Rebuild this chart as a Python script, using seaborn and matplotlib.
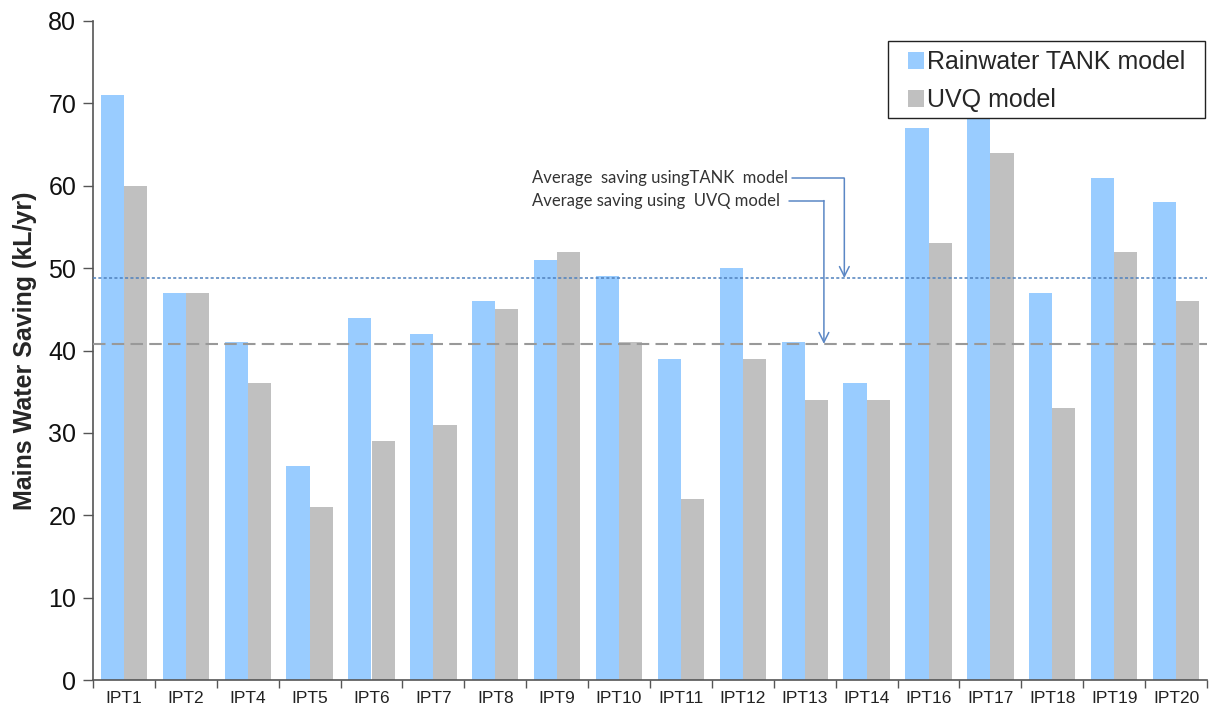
import matplotlib
matplotlib.use("Agg")
import matplotlib.pyplot as plt
import matplotlib.patches as mpatches
import seaborn as sns
import pandas as pd
from matplotlib.ticker import FixedLocator, MultipleLocator

# ---- data ----
categories = ["IPT1", "IPT2", "IPT4", "IPT5", "IPT6", "IPT7", "IPT8", "IPT9", "IPT10",
              "IPT11", "IPT12", "IPT13", "IPT14", "IPT16", "IPT17", "IPT18", "IPT19", "IPT20"]
tank_values = [71, 47, 41, 26, 44, 42, 46, 51, 49, 39, 50, 41, 36, 67, 69, 47, 61, 58]
uvq_values = [60, 47, 36, 21, 29, 31, 45, 52, 41, 22, 39, 34, 34, 53, 64, 33, 52, 46]
series_names = ["Rainwater TANK model", "UVQ model"]
avg_tank = 48.8
avg_uvq = 40.8
y_ticks = [0, 10, 20, 30, 40, 50, 60, 70, 80]
annot_tank = "Average  saving usingTANK  model"
annot_uvq = "Average saving using  UVQ model"
y_label = "Mains Water Saving (kL/yr)"

df = pd.DataFrame({
    "cat": categories * 2,
    "value": tank_values + uvq_values,
    "series": [series_names[0]] * len(categories) + [series_names[1]] * len(categories),
})

sns.set_style("white")
plt.rcParams["font.family"] = ["Liberation Sans", "DejaVu Sans"]

W, H = 1209, 713
fig = plt.figure(figsize=(W / 100, H / 100), dpi=100)
ax = fig.add_axes([93 / W, 1 - 680 / H, (1207 - 93) / W, (680 - 21) / H])

sns.barplot(data=df, x="cat", y="value", hue="series", order=categories,
            hue_order=series_names, palette=["#99CCFF", "#C0C0C0"], saturation=1,
            width=0.75, linewidth=0, ax=ax, errorbar=None)

ax.set_xlim(-0.5, len(categories) - 0.5)
ax.set_ylim(0, 80)
ax.yaxis.set_major_locator(FixedLocator(y_ticks))
ax.set_yticklabels([str(t) for t in y_ticks], fontsize=18, color="#111111")
ax.tick_params(axis="y", direction="out", length=7, width=1, color="#555555", left=True, pad=5)
ax.tick_params(axis="x", which="major", length=0, labelsize=12.5, labelcolor="#222222", pad=8)
ax.xaxis.set_minor_locator(MultipleLocator(1, offset=0.5))
ax.tick_params(axis="x", which="minor", direction="out", length=6, width=1, color="#555555", bottom=True)
ax.set_xlabel("")
ax.set_ylabel(y_label, fontsize=18, fontweight="bold", labelpad=8)
for s in ["top", "right"]:
    ax.spines[s].set_visible(False)
for s in ["left", "bottom"]:
    ax.spines[s].set_color("#555555")
    ax.spines[s].set_linewidth(1.2)

# average lines
ax.axhline(avg_tank, color="#4F81BD", linestyle=(0, (2, 1.5)), linewidth=1.1, zorder=3)
ax.axhline(avg_uvq, color="#999999", linestyle=(0, (6, 3)), linewidth=1.5, zorder=3)

# annotations
ann_color = "#5B87C5"
ax.text(6.59, 60.9, annot_tank, fontsize=12, family=["Lato", "DejaVu Sans"],
        color="#333333", ha="left", va="center")
ax.text(6.59, 58.2, annot_uvq, fontsize=12, family=["Lato", "DejaVu Sans"],
        color="#333333", ha="left", va="center")
ax.plot([10.8, 11.64], [60.9, 60.9], color=ann_color, linewidth=1.1, zorder=4)
ax.annotate("", xy=(11.64, avg_tank), xytext=(11.64, 60.9),
            arrowprops=dict(arrowstyle="->,head_length=0.7,head_width=0.35",
                            color=ann_color, linewidth=1.1, shrinkA=0, shrinkB=0), zorder=4)
ax.plot([10.75, 11.31], [58.2, 58.2], color=ann_color, linewidth=1.1, zorder=4)
ax.annotate("", xy=(11.31, avg_uvq), xytext=(11.31, 58.2),
            arrowprops=dict(arrowstyle="->,head_length=0.7,head_width=0.35",
                            color=ann_color, linewidth=1.1, shrinkA=0, shrinkB=0), zorder=4)

# legend with a custom frame box
frame = mpatches.Rectangle((888 / W, 1 - 118 / H), (1205 - 888) / W, (118 - 41) / H,
                           transform=fig.transFigure, facecolor="white",
                           edgecolor="#222222", linewidth=1.0, zorder=9)
fig.patches.append(frame)
leg = ax.legend(loc="upper left", bbox_to_anchor=(908 / W, 1 - 50 / H),
                bbox_transform=fig.transFigure, borderaxespad=0,
                fontsize=18, frameon=False, handlelength=0.65,
                handleheight=0.65, handletextpad=0.12, labelspacing=0.58,
                borderpad=0, title=None)
leg.set_zorder(10)
leg.set_in_layout(False)
leg.remove()
fig.legends.append(leg)
leg.set_figure(fig)

fig.savefig("out.png", dpi=100)
